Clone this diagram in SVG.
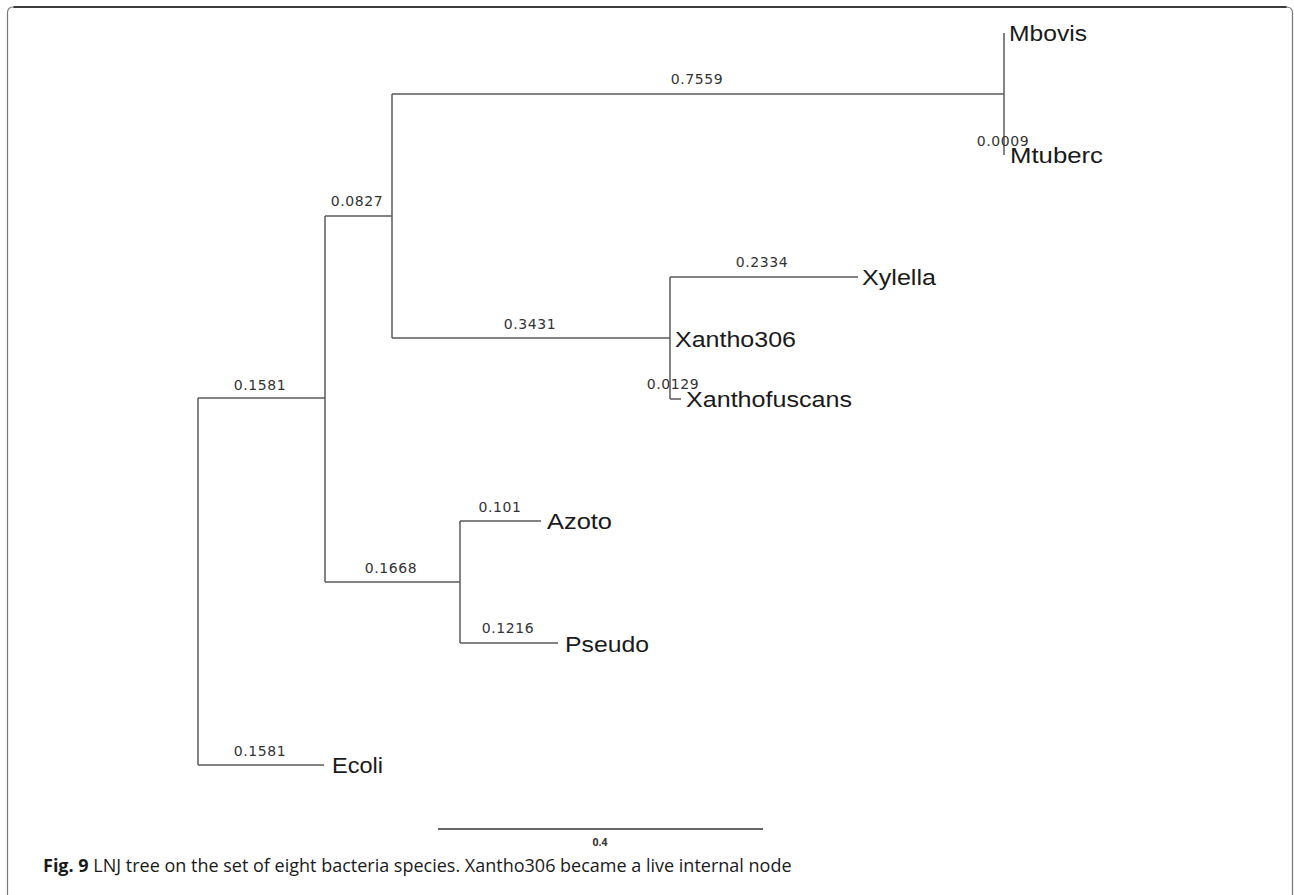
<svg xmlns="http://www.w3.org/2000/svg" width="1294" height="895" viewBox="0 0 1294 895">
  <style>
    .edge { fill: none; stroke: #5a5a5a; stroke-width: 1.5; }
    .len { font-family: "DejaVu Sans", sans-serif; font-size: 14px; fill: #333; letter-spacing: 0.6px; text-anchor: middle; }
    .leaf { font-family: "Liberation Sans", Arial, sans-serif; font-size: 22px; fill: #1a1a1a; }
    .cap { font-family: "Open Sans", "Noto Sans", sans-serif; font-size: 18px; fill: #1a1a1a; }
  </style>
  <rect width="1294" height="895" fill="#fff"/>
  <!-- panel frame, open at the bottom -->
  <path d="M7.5,895 V13 Q7.5,7 13.5,7 H1286.5 Q1292.5,7 1292.5,13 V895" fill="none" stroke="#777" stroke-width="1.2"/>
  <path d="M13.5,7 H1286.5" stroke="#111" stroke-width="1.5"/>

  <g id="connectors">
    <!-- root -->
    <path class="edge" d="M198,398 V765"/>
    <path class="edge" d="M198,398 H325"/>
    <path class="edge" d="M198,765 H324"/>
    <!-- inner split -->
    <path class="edge" d="M325,216 V582"/>
    <path class="edge" d="M325,216 H392"/>
    <path class="edge" d="M325,582 H460"/>
    <!-- Mycobacteria / Xanthomonads split -->
    <path class="edge" d="M392,94 V338"/>
    <path class="edge" d="M392,94 H1004"/>
    <path class="edge" d="M392,338 H670"/>
    <!-- Mbovis / Mtuberc -->
    <path class="edge" d="M1004,33 V155"/>
    <!-- Xantho306 -->
    <path class="edge" d="M670,277 V399"/>
    <path class="edge" d="M670,277 H858"/>
    <path class="edge" d="M670,399 H681"/>
    <!-- Azoto / Pseudo -->
    <path class="edge" d="M460,521 V643"/>
    <path class="edge" d="M460,521 H541"/>
    <path class="edge" d="M460,643 H558"/>
  </g>

  <g id="edge-lengths">
    <text class="len" x="260" y="390">0.1581</text>
    <text class="len" x="260" y="756">0.1581</text>
    <text class="len" x="357" y="206">0.0827</text>
    <text class="len" x="391" y="573">0.1668</text>
    <text class="len" x="697" y="84">0.7559</text>
    <text class="len" x="530" y="329">0.3431</text>
    <text class="len" x="762" y="267">0.2334</text>
    <text class="len" x="1003" y="146">0.0009</text>
    <text class="len" x="673" y="389">0.0129</text>
    <text class="len" x="500" y="512">0.101</text>
    <text class="len" x="508" y="633">0.1216</text>
  </g>

  <g id="node-Mbovis"><text class="leaf" x="1009" y="41" textLength="78" lengthAdjust="spacingAndGlyphs">Mbovis</text></g>
  <g id="node-Mtuberc"><text class="leaf" x="1010" y="163" textLength="93" lengthAdjust="spacingAndGlyphs">Mtuberc</text></g>
  <g id="node-Xylella"><text class="leaf" x="862" y="285" textLength="74" lengthAdjust="spacingAndGlyphs">Xylella</text></g>
  <g id="node-Xantho306"><text class="leaf" x="675" y="347" textLength="121" lengthAdjust="spacingAndGlyphs">Xantho306</text></g>
  <g id="node-Xanthofuscans"><text class="leaf" x="686" y="407" textLength="166" lengthAdjust="spacingAndGlyphs">Xanthofuscans</text></g>
  <g id="node-Azoto"><text class="leaf" x="547" y="529" textLength="65" lengthAdjust="spacingAndGlyphs">Azoto</text></g>
  <g id="node-Pseudo"><text class="leaf" x="565" y="652" textLength="84" lengthAdjust="spacingAndGlyphs">Pseudo</text></g>
  <g id="node-Ecoli"><text class="leaf" x="332" y="773" textLength="51" lengthAdjust="spacingAndGlyphs">Ecoli</text></g>

  <g id="scale-bar">
    <path d="M438,829 H763" stroke="#333" stroke-width="1.5"/>
    <text x="600" y="846" font-family="'Open Sans', sans-serif" font-size="10.5" font-weight="bold" fill="#333" text-anchor="middle">0.4</text>
  </g>

  <text class="cap" x="43" y="872"><tspan font-weight="bold">Fig. 9</tspan> LNJ tree on the set of eight bacteria species. Xantho306 became a live internal node</text>
</svg>
